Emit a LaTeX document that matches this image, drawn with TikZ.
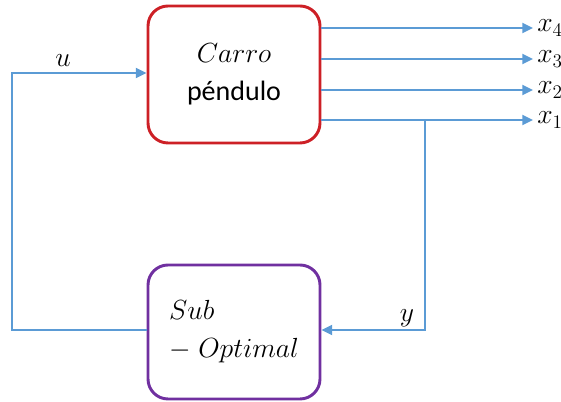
\documentclass[tikz,border=0pt]{standalone}
\usepackage{fontspec}
\setmainfont{Carlito}
\usetikzlibrary{arrows.meta}
\definecolor{flow}{RGB}{91,155,213}
\definecolor{plantred}{RGB}{205,32,38}
\definecolor{ctrlpurple}{RGB}{112,48,160}
\tikzset{
  blockbox/.style={draw, line width=2.2pt, rounded corners=15pt, fill=white,
    minimum width=129pt, font=\fontsize{21}{28.5}\selectfont},
  sig/.style={draw=flow, line width=1.5pt},
  sigarrow/.style={sig, -{Triangle[length=8pt,width=7.5pt]}},
  siglabel/.style={font=\fontsize{22}{26}\selectfont, inner sep=1pt},
}
\begin{document}
\begin{tikzpicture}[x=0.75pt, y=-0.75pt]
  \useasboundingbox (0,0) rectangle (561,402);

  % plant and controller blocks
  \node[blockbox, draw=plantred, minimum height=102.75pt, align=center]
    (plant) at (234,74.5) {$Carro$\\péndulo};
  \node[blockbox, draw=ctrlpurple, minimum height=100.5pt, align=left]
    (ctrl) at (234,332) {$Sub$\\$-\;Optimal$};

  % state outputs
  \coordinate (e4) at (533,28);
  \coordinate (e3) at (533,59);
  \coordinate (e2) at (533,90);
  \coordinate (e1) at (533,120);
  \draw[sigarrow] (plant.east |- e4) -- (e4);
  \draw[sigarrow] (plant.east |- e3) -- (e3);
  \draw[sigarrow] (plant.east |- e2) -- (e2);
  \draw[sigarrow] (plant.east |- e1) -- (e1);
  \node[siglabel, anchor=west] (x4) at ([xshift=2pt]e4) {$x_4$};
  \node[siglabel, anchor=west] (x3) at ([xshift=2pt]e3) {$x_3$};
  \node[siglabel, anchor=west] (x2) at ([xshift=2pt]e2) {$x_2$};
  \node[siglabel, anchor=west] (x1) at ([xshift=2pt]e1) {$x_1$};

  % measured output y back to the controller
  \coordinate (tap) at (425,120);
  \coordinate (tapdown) at (425,330);
  \draw[sigarrow] (tap) -- (tapdown) -- (ctrl.east |- tapdown);
  \node[siglabel] (ylab) at (407,318) {$y$};

  % control input u back to the plant
  \coordinate (fbdown) at (12,330);
  \coordinate (fbup) at (12,73);
  \draw[sigarrow] (ctrl.west |- fbdown) -- (fbdown) -- (fbup) -- (plant.west |- fbup);
  \node[siglabel] (ulab) at (63,61) {$u$};
\end{tikzpicture}
\end{document}
